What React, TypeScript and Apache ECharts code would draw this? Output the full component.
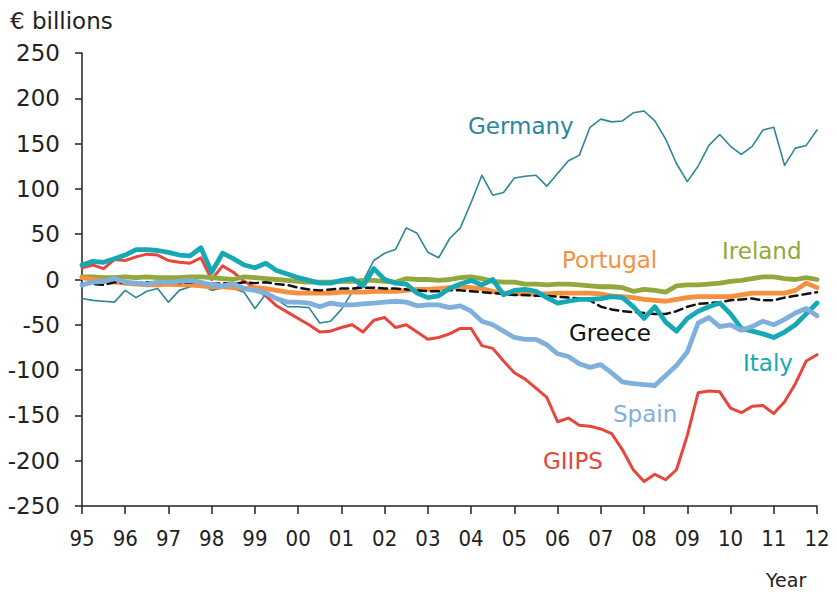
import React, { useEffect, useRef } from "react";
import * as echarts from "echarts";

const years = ["95","96","97","98","99","00","01","02","03","04","05","06","07","08","09","10","11","12"];
const yTicks = { min: -250, max: 250, step: 50 };

const germany = [-21,-23,-24,-25,-12,-20,-13,-10,-25,-12,-8,-5,-12,-9,-10,-14,-32,-16,-22,-30,-30,-31,-48,-46,-33,-14,-2,21,29,33,57,51,30,24,45,57,85,115,93,96,112,114,115,103,117,131,137,168,177,174,175,184,186,175,155,128,108,125,148,160,147,138,147,165,168,126,145,148,165];
const giips = [13,16,12,22,21,25,28,27,21,19,18,24,0,15,8,-2,-9,-18,-29,-36,-43,-50,-58,-57,-53,-50,-58,-45,-42,-53,-50,-58,-66,-64,-60,-54,-54,-73,-76,-90,-103,-110,-120,-130,-157,-153,-161,-162,-165,-170,-188,-210,-223,-215,-221,-210,-172,-125,-123,-124,-142,-147,-140,-139,-148,-135,-115,-90,-83];
const italy = [16,20,19,23,27,33,33,32,30,27,26,35,8,29,23,16,13,18,10,6,2,-1,-4,-4,-1,1,-7,12,0,-4,-5,-15,-20,-18,-10,-5,-1,-6,0,-17,-12,-11,-13,-20,-26,-24,-22,-22,-21,-19,-20,-30,-43,-30,-47,-57,-43,-35,-30,-26,-38,-54,-57,-60,-64,-58,-50,-38,-26];
const spain = [-6,-3,-2,1,-3,-4,-5,-3,-3,-2,-1,-3,-6,-7,-5,-10,-12,-15,-21,-25,-25,-26,-30,-26,-28,-28,-27,-26,-25,-24,-25,-29,-28,-28,-31,-29,-35,-46,-50,-57,-64,-66,-66,-72,-82,-85,-93,-97,-94,-103,-113,-115,-116,-117,-106,-95,-80,-48,-42,-52,-50,-56,-52,-46,-50,-44,-37,-32,-40];
const ireland = [3,3,2,2,3,2,3,2,2,2,3,3,2,1,0,3,2,1,0,-1,-2,-3,-3,-3,-2,-2,-1,-1,-2,-3,1,0,0,-1,0,2,3,1,-2,-3,-3,-5,-5,-6,-5,-5,-6,-7,-8,-8,-9,-13,-11,-12,-14,-7,-6,-6,-5,-4,-2,-1,1,3,3,1,0,2,0];
const portugal = [2,0,-2,-3,-4,-5,-6,-6,-5,-6,-6,-7,-8,-8,-9,-10,-9,-10,-12,-14,-15,-15,-15,-15,-14,-14,-14,-13,-13,-13,-12,-11,-11,-10,-9,-8,-9,-10,-13,-15,-15,-16,-16,-16,-15,-15,-15,-15,-16,-18,-19,-20,-22,-23,-24,-22,-20,-19,-19,-19,-19,-17,-15,-15,-15,-15,-12,-4,-9];
const greece = [-4,-5,-6,-3,-4,-4,-3,-4,-3,-4,-3,-3,-5,-4,-5,-3,-4,-3,-5,-6,-9,-11,-12,-11,-10,-10,-9,-9,-10,-10,-11,-12,-13,-13,-12,-12,-13,-14,-15,-16,-17,-17,-18,-18,-19,-20,-21,-23,-30,-33,-35,-36,-37,-38,-38,-35,-30,-27,-26,-25,-23,-22,-21,-23,-23,-20,-18,-16,-14];

// quarterly categories: 95Q1 ... 12Q1
const categories: string[] = [];
years.forEach((y, i) => {
  if (i < years.length - 1) {
    for (let q = 1; q <= 4; q++) categories.push(`${y}Q${q}`);
  } else {
    categories.push(`${y}Q1`);
  }
});

const FONT = "DejaVu Sans, Verdana, sans-serif";
const TXT = "#222222";

const C = {
  germany: "#2b8797",
  giips: "#e8453c",
  italy: "#17a8b6",
  spain: "#7fb0dc",
  ireland: "#93a83c",
  portugal: "#f5903f",
  greece: "#111111",
};

export default function App() {
  const ref = useRef<HTMLDivElement>(null);
  useEffect(() => {
    if (!ref.current) return;
    const chart = echarts.init(ref.current, null, { renderer: "svg" });
    const line = (name: string, data: number[], color: string, width: number, type: any = "solid") => ({
      name,
      type: "line",
      data,
      showSymbol: false,
      symbol: "none",
      lineStyle: { color, width, type, cap: "round", join: "round" },
      itemStyle: { color },
      emphasis: { disabled: true },
    });
    const label = (text: string, x: number, y: number, fill: string, fontSize = 23) => ({
      type: "text",
      x,
      y,
      style: { text, fill, fontSize, fontFamily: FONT, align: "left", verticalAlign: "middle" },
    });
    chart.setOption({
      animation: false,
      backgroundColor: "#ffffff",
      grid: { left: 82, right: 20, top: 53, bottom: 86, containLabel: false },
      xAxis: {
        type: "category",
        data: categories,
        boundaryGap: false,
        axisLine: { onZero: false, lineStyle: { color: TXT, width: 1.5 } },
        axisTick: { show: true, length: 8, interval: (i: number) => i % 4 === 0, lineStyle: { color: TXT, width: 1.5 } },
        axisLabel: {
          interval: (i: number) => i % 4 === 0,
          formatter: (v: string) => v.slice(0, 2),
          color: TXT,
          fontSize: 22,
          fontFamily: "DejaVu Sans Condensed, DejaVu Sans, sans-serif",
          margin: 21,
        },
        splitLine: { show: false },
      },
      yAxis: {
        type: "value",
        min: yTicks.min,
        max: yTicks.max,
        interval: yTicks.step,
        axisLine: { show: true, lineStyle: { color: TXT, width: 1.5 } },
        axisTick: { show: true, length: 7, lineStyle: { color: TXT, width: 1.5 } },
        axisLabel: { color: TXT, fontSize: 23, fontFamily: FONT, margin: 22 },
        splitLine: { show: false },
      },
      series: [
        line("GIIPS", giips, C.giips, 3),
        line("Germany", germany, C.germany, 1.6),
        line("Ireland", ireland, C.ireland, 4.8),
        line("Portugal", portugal, C.portugal, 4.8),
        line("Greece", greece, C.greece, 2.5, [8, 5]),
        line("Italy", italy, C.italy, 4.8),
        line("Spain", spain, C.spain, 4.8),
      ],
      graphic: [
        label("€ billions", 10, 21, TXT),
        label("Germany", 468, 126, C.germany),
        label("Portugal", 562, 260, C.portugal),
        label("Ireland", 722, 251, C.ireland),
        label("Greece", 569, 333, "#111111"),
        label("Italy", 743, 363, C.italy),
        label("Spain", 613, 414, C.spain),
        label("GIIPS", 543, 461, C.giips),
        label("Year", 766, 580, TXT, 19),
      ],
    });
    return () => chart.dispose();
  }, []);
  return <div ref={ref} style={{ position: "fixed", left: 0, top: 0, width: 837, height: 592 }} />;
}
